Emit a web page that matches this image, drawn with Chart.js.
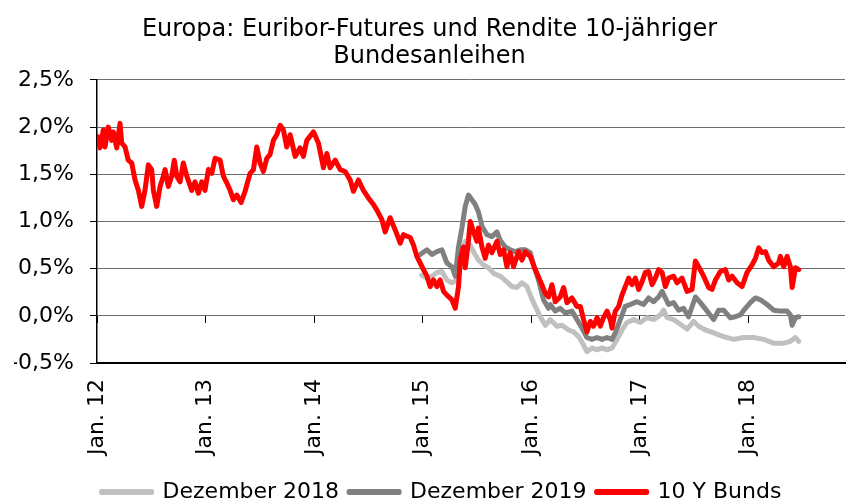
<!DOCTYPE html>
<html>
<head>
<meta charset="utf-8">
<script src="https://cdn.jsdelivr.net/npm/chart.js@4.4.1/dist/chart.umd.min.js"></script>
<style>
  body { margin: 0; background: #fff; }
  #wrap { width: 847px; height: 502px; position: relative; }
</style>
</head>
<body>
<div id="wrap"><canvas id="chart"></canvas></div>
<script>
// x = Jahre seit Jan. 2012, y = Prozent
const yearTicks = [0, 1, 2, 3, 4, 5, 6]
const yearLabels = ['Jan. 12', 'Jan. 13', 'Jan. 14', 'Jan. 15', 'Jan. 16', 'Jan. 17', 'Jan. 18']

const bundT = [
  0.006,0.028,0.058,0.074,0.104,0.135,0.150,0.182,0.212,0.228,
  0.258,0.288,0.320,0.350,0.381,0.412,0.442,0.473,0.504,0.519,
  0.550,0.581,0.611,0.627,0.657,0.688,0.712,0.735,0.765,0.795,
  0.827,0.873,0.903,0.934,0.965,0.995,1.026,1.057,1.088,1.134,
  1.164,1.195,1.226,1.256,1.288,1.327,1.364,1.410,1.441,1.472,
  1.502,1.533,1.564,1.594,1.625,1.656,1.687,1.717,1.748,1.779,
  1.825,1.871,1.901,1.933,1.994,2.040,2.086,2.117,2.147,2.194,
  2.240,2.286,2.332,2.362,2.408,2.454,2.500,2.546,2.578,2.624,
  2.654,2.700,2.747,2.793,2.823,2.885,2.915,2.946,2.977,3.007,
  3.039,3.069,3.100,3.131,3.161,3.192,3.223,3.269,3.300,3.330,
  3.346,3.376,3.392,3.422,3.438,3.468,3.500,3.514,3.546,3.576,
  3.606,3.638,3.684,3.714,3.745,3.776,3.806,3.837,3.883,3.914,
  3.945,3.991,4.037,4.083,4.129,4.159,4.191,4.221,4.267,4.298,
  4.329,4.375,4.421,4.452,4.482,4.513,4.544,4.574,4.606,4.636,
  4.666,4.698,4.728,4.744,4.774,4.805,4.836,4.866,4.897,4.928,
  4.959,4.989,5.020,5.051,5.081,5.113,5.143,5.173,5.205,5.235,
  5.265,5.311,5.343,5.389,5.435,5.481,5.512,5.542,5.588,5.634,
  5.665,5.696,5.742,5.788,5.819,5.850,5.896,5.942,5.988,6.034,
  6.065,6.095,6.126,6.157,6.187,6.233,6.279,6.295,6.325,6.357,
  6.387,6.403,6.418,6.433,6.464
]
const bundV = [
  1.90,1.78,1.97,1.79,2.00,1.86,1.95,1.78,2.04,1.83,
  1.79,1.65,1.62,1.44,1.33,1.16,1.33,1.60,1.55,1.33,
  1.16,1.37,1.48,1.55,1.37,1.48,1.65,1.48,1.42,1.62,
  1.48,1.33,1.42,1.30,1.42,1.33,1.55,1.51,1.67,1.65,
  1.48,1.41,1.33,1.23,1.28,1.20,1.32,1.51,1.55,1.79,
  1.62,1.53,1.67,1.71,1.86,1.92,2.02,1.97,1.79,1.92,
  1.69,1.78,1.69,1.86,1.95,1.83,1.57,1.72,1.57,1.65,
  1.55,1.53,1.44,1.32,1.44,1.33,1.25,1.18,1.12,1.02,
  0.89,1.04,0.91,0.77,0.86,0.83,0.75,0.63,0.56,0.49,
  0.42,0.31,0.38,0.31,0.38,0.26,0.22,0.17,0.08,0.31,
  0.59,0.73,0.51,0.80,1.00,0.89,0.79,0.93,0.73,0.61,
  0.75,0.67,0.79,0.65,0.70,0.52,0.67,0.52,0.68,0.59,
  0.68,0.63,0.49,0.37,0.24,0.20,0.33,0.15,0.20,0.30,
  0.14,0.19,0.10,0.10,-0.04,-0.17,-0.06,-0.11,-0.02,-0.11,
  -0.02,0.05,-0.04,-0.13,0.05,0.10,0.22,0.31,0.40,0.33,
  0.40,0.28,0.36,0.46,0.47,0.33,0.40,0.49,0.46,0.31,
  0.40,0.42,0.35,0.40,0.26,0.28,0.58,0.52,0.42,0.30,
  0.28,0.38,0.47,0.49,0.38,0.42,0.35,0.31,0.46,0.54,
  0.61,0.72,0.67,0.68,0.59,0.52,0.56,0.63,0.52,0.63,
  0.52,0.30,0.40,0.51,0.49
]

const dez19T = [
  2.977,3.039,3.085,3.131,3.177,3.223,3.269,3.300,3.330,3.361,
  3.392,3.422,3.453,3.484,3.514,3.546,3.592,3.638,3.684,3.714,
  3.760,3.806,3.853,3.899,3.945,3.991,4.021,4.067,4.113,4.159,
  4.175,4.221,4.267,4.313,4.375,4.421,4.467,4.513,4.559,4.606,
  4.652,4.698,4.744,4.774,4.820,4.866,4.912,4.974,5.035,5.081,
  5.127,5.173,5.205,5.235,5.265,5.311,5.357,5.403,5.449,5.512,
  5.558,5.620,5.680,5.726,5.772,5.834,5.880,5.926,5.972,6.018,
  6.065,6.111,6.172,6.233,6.295,6.357,6.387,6.403,6.433,6.464
]
const dez19V = [
  0.65,0.70,0.65,0.68,0.70,0.56,0.52,0.42,0.73,0.93,
  1.16,1.28,1.23,1.18,1.10,0.95,0.86,0.84,0.89,0.80,
  0.73,0.70,0.68,0.70,0.70,0.67,0.54,0.38,0.17,0.08,
  0.12,0.05,0.08,0.03,0.05,-0.04,-0.13,-0.23,-0.25,-0.23,
  -0.25,-0.23,-0.25,-0.18,-0.04,0.10,0.12,0.15,0.12,0.19,
  0.15,0.20,0.26,0.19,0.12,0.14,0.06,0.08,-0.01,0.20,
  0.14,0.05,-0.04,0.06,0.06,-0.02,-0.01,0.01,0.08,0.14,
  0.19,0.17,0.12,0.06,0.05,0.05,0.01,-0.10,-0.02,-0.01
]

const dez18T = [
  2.992,3.039,3.085,3.131,3.177,3.223,3.269,3.315,3.346,3.392,
  3.438,3.468,3.514,3.560,3.606,3.652,3.714,3.776,3.822,3.868,
  3.914,3.960,3.991,4.037,4.083,4.129,4.175,4.237,4.283,4.344,
  4.390,4.436,4.482,4.513,4.559,4.606,4.652,4.698,4.744,4.790,
  4.836,4.882,4.943,5.005,5.066,5.127,5.189,5.219,5.251,5.311,
  5.373,5.435,5.496,5.542,5.604,5.680,5.772,5.865,5.957,6.049,
  6.141,6.233,6.325,6.387,6.433,6.464
]
const dez18V = [
  0.43,0.40,0.42,0.46,0.47,0.38,0.35,0.38,0.59,0.79,
  0.75,0.68,0.59,0.54,0.51,0.45,0.42,0.36,0.31,0.30,
  0.35,0.31,0.22,0.10,-0.01,-0.10,-0.04,-0.11,-0.10,-0.15,
  -0.17,-0.22,-0.31,-0.38,-0.34,-0.36,-0.34,-0.36,-0.34,-0.25,
  -0.15,-0.07,-0.04,-0.07,-0.02,-0.04,0.01,0.06,-0.02,-0.04,
  -0.09,-0.14,-0.06,-0.11,-0.15,-0.18,-0.22,-0.25,-0.23,-0.23,
  -0.25,-0.29,-0.29,-0.27,-0.23,-0.27
]

function points(t, v) {
    return t.map((x, i) => ({ x: x, y: v[i] }))
}

const font = "'DejaVu Sans', Verdana, sans-serif"

function lineSet(label, t, v, color, order) {
    return {
        label: label,
        data: points(t, v),
        borderColor: color,
        backgroundColor: color,
        borderWidth: 5,
        pointRadius: 0,
        tension: 0,
        borderJoinStyle: 'round',
        borderCapStyle: 'round',
        order: order
    }
}

// Legende etwas nach rechts unten schieben, wie im Original
const legendShift = {
    id: 'legendShift',
    afterLayout(chart) {
        const l = chart.legend
        l.left += 12; l.right += 12
        l.top += 11; l.bottom += 11
    }
}

const ctx = document.querySelector('#chart')

const chart = new Chart(ctx, {
    type: 'line',
    data: {
        datasets: [
            lineSet('Dezember 2018', dez18T, dez18V, '#c0c0c0', 3),
            lineSet('Dezember 2019', dez19T, dez19V, '#808080', 2),
            lineSet('10 Y Bunds', bundT, bundV, '#ff0000', 1)
        ]
    },
    plugins: [legendShift],
    options: {
        responsive: true,
        maintainAspectRatio: false,
        animation: false,
        layout: { padding: { left: 14, right: 2, top: 0, bottom: 0 } },
        plugins: {
            tooltip: { enabled: false },
            title: {
                display: true,
                text: ['Europa: Euribor-Futures und Rendite 10-jähriger', 'Bundesanleihen'],
                color: '#000',
                font: { family: font, size: 24, weight: 'normal', lineHeight: 1.12 },
                padding: { top: 16.6, bottom: 9.6 }
            },
            legend: {
                position: 'bottom',
                labels: {
                    color: '#000',
                    font: { family: font, size: 22 },
                    boxWidth: 50,
                    boxHeight: 1,
                    padding: 10,
                    sort: (a, b) => a.datasetIndex - b.datasetIndex
                }
            }
        },
        scales: {
            x: {
                type: 'linear',
                min: 0,
                max: 6.89,
                afterBuildTicks: axis => { axis.ticks = yearTicks.map(v => ({ value: v })) },
                afterFit: axis => { axis.height = 97 },
                grid: { drawOnChartArea: false, drawTicks: false },
                border: { color: '#000', width: 2 },
                ticks: {
                    color: '#000',
                    font: { family: font, size: 22 },
                    minRotation: 90,
                    maxRotation: 90,
                    padding: 16,
                    callback: v => yearLabels[yearTicks.indexOf(v)]
                }
            },
            xTick: {
                type: 'linear',
                axis: 'x',
                position: { y: 0 },
                min: 0,
                max: 6.89,
                afterBuildTicks: axis => { axis.ticks = yearTicks.map(v => ({ value: v })) },
                grid: { drawOnChartArea: false, drawTicks: true, tickLength: 7, tickColor: '#000', tickWidth: 1 },
                border: { display: false },
                ticks: { display: false }
            },
            y: {
                min: -0.5,
                max: 2.5,
                afterFit: axis => { axis.width = 83 },
                ticks: {
                    stepSize: 0.5,
                    color: '#000',
                    font: { family: font, size: 22 },
                    padding: 16,
                    callback: v => v.toFixed(1).replace('.', ',') + '%'
                },
                grid: { color: '#6e6e6e', tickColor: '#000', tickLength: 7, lineWidth: 1 },
                border: { color: '#000', width: 1.5 }
            }
        }
    }
})
</script>
</body>
</html>
